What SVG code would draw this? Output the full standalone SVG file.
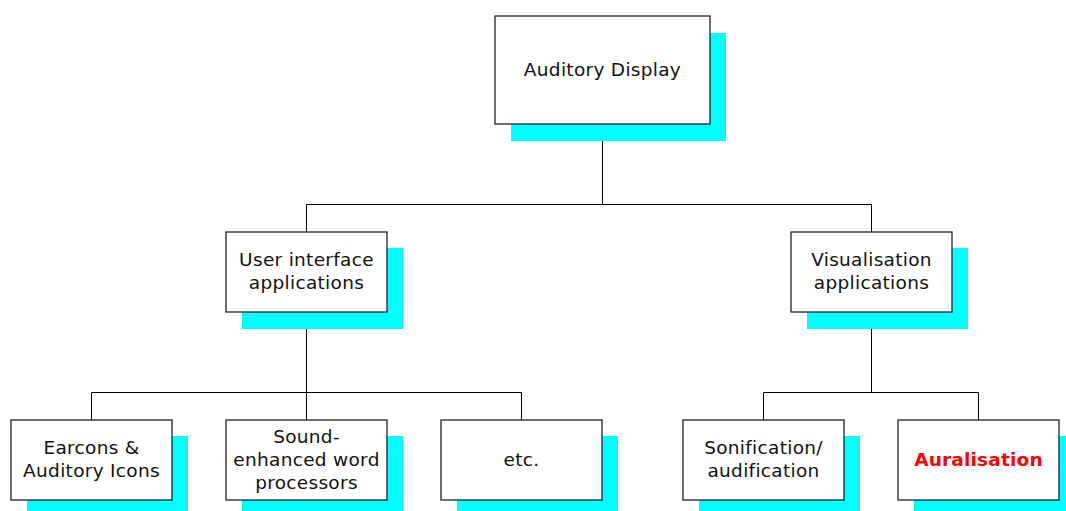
<svg xmlns="http://www.w3.org/2000/svg" width="1066" height="511" viewBox="0 0 1066 511">
<style>
.sh{fill:#00FFFF;stroke:none}
.bx{fill:#FFFFFF;stroke:#222222;stroke-width:1.3}
.t{font-family:"DejaVu Sans",Verdana,sans-serif;font-size:18.5px;letter-spacing:0.3px;fill:#111111;text-anchor:middle}
.red{fill:#FF0000;font-weight:bold;letter-spacing:0.2px}
.c{stroke:#000000;stroke-width:1;fill:none}
</style>
<rect width="1066" height="511" fill="#FFFFFF"/>
<g id="connectors">
<path class="c" d="M602.5,124 V204.5 M306.5,204.5 H871.5 M306.5,204.5 V232 M871.5,204.5 V232"/>
<path class="c" d="M306.5,312 V392.5 M91.5,392.5 H521.5 M91.5,392.5 V420 M306.5,392.5 V420 M521.5,392.5 V420"/>
<path class="c" d="M871.5,312 V392.5 M763.5,392.5 H978.5 M763.5,392.5 V420 M978.5,392.5 V420"/>
</g>
<g id="auditory-display">
<rect class="sh" x="511" y="33" width="215" height="108"/>
<rect class="bx" x="495" y="16" width="215" height="108"/>
<text class="t" x="602.5" y="76">Auditory Display</text>
</g>
<g id="user-interface">
<rect class="sh" x="242" y="248" width="161" height="81"/>
<rect class="bx" x="226" y="232" width="161" height="80"/>
<text class="t" x="306.5" y="266">User interface</text>
<text class="t" x="306.5" y="289">applications</text>
</g>
<g id="visualisation">
<rect class="sh" x="807" y="248" width="161" height="81"/>
<rect class="bx" x="791" y="232" width="161" height="80"/>
<text class="t" x="871.5" y="266">Visualisation</text>
<text class="t" x="871.5" y="289">applications</text>
</g>
<g id="earcons">
<rect class="sh" x="27" y="436" width="161" height="80"/>
<rect class="bx" x="11" y="420" width="161" height="80"/>
<text class="t" x="91.5" y="454">Earcons &amp;</text>
<text class="t" x="91.5" y="477">Auditory Icons</text>
</g>
<g id="sound-enhanced">
<rect class="sh" x="242" y="436" width="161" height="80"/>
<rect class="bx" x="226" y="420" width="161" height="80"/>
<text class="t" x="306.5" y="443">Sound-</text>
<text class="t" x="306.5" y="466">enhanced word</text>
<text class="t" x="306.5" y="489">processors</text>
</g>
<g id="etc">
<rect class="sh" x="457" y="436" width="161" height="80"/>
<rect class="bx" x="441" y="420" width="161" height="80"/>
<text class="t" x="521.5" y="466">etc.</text>
</g>
<g id="sonification">
<rect class="sh" x="699" y="436" width="161" height="80"/>
<rect class="bx" x="683" y="420" width="161" height="80"/>
<text class="t" x="763.5" y="454">Sonification/</text>
<text class="t" x="763.5" y="477">audification</text>
</g>
<g id="auralisation">
<rect class="sh" x="914" y="436" width="161" height="80"/>
<rect class="bx" x="898" y="420" width="161" height="80"/>
<text class="t red" x="978.5" y="466">Auralisation</text>
</g>
</svg>
